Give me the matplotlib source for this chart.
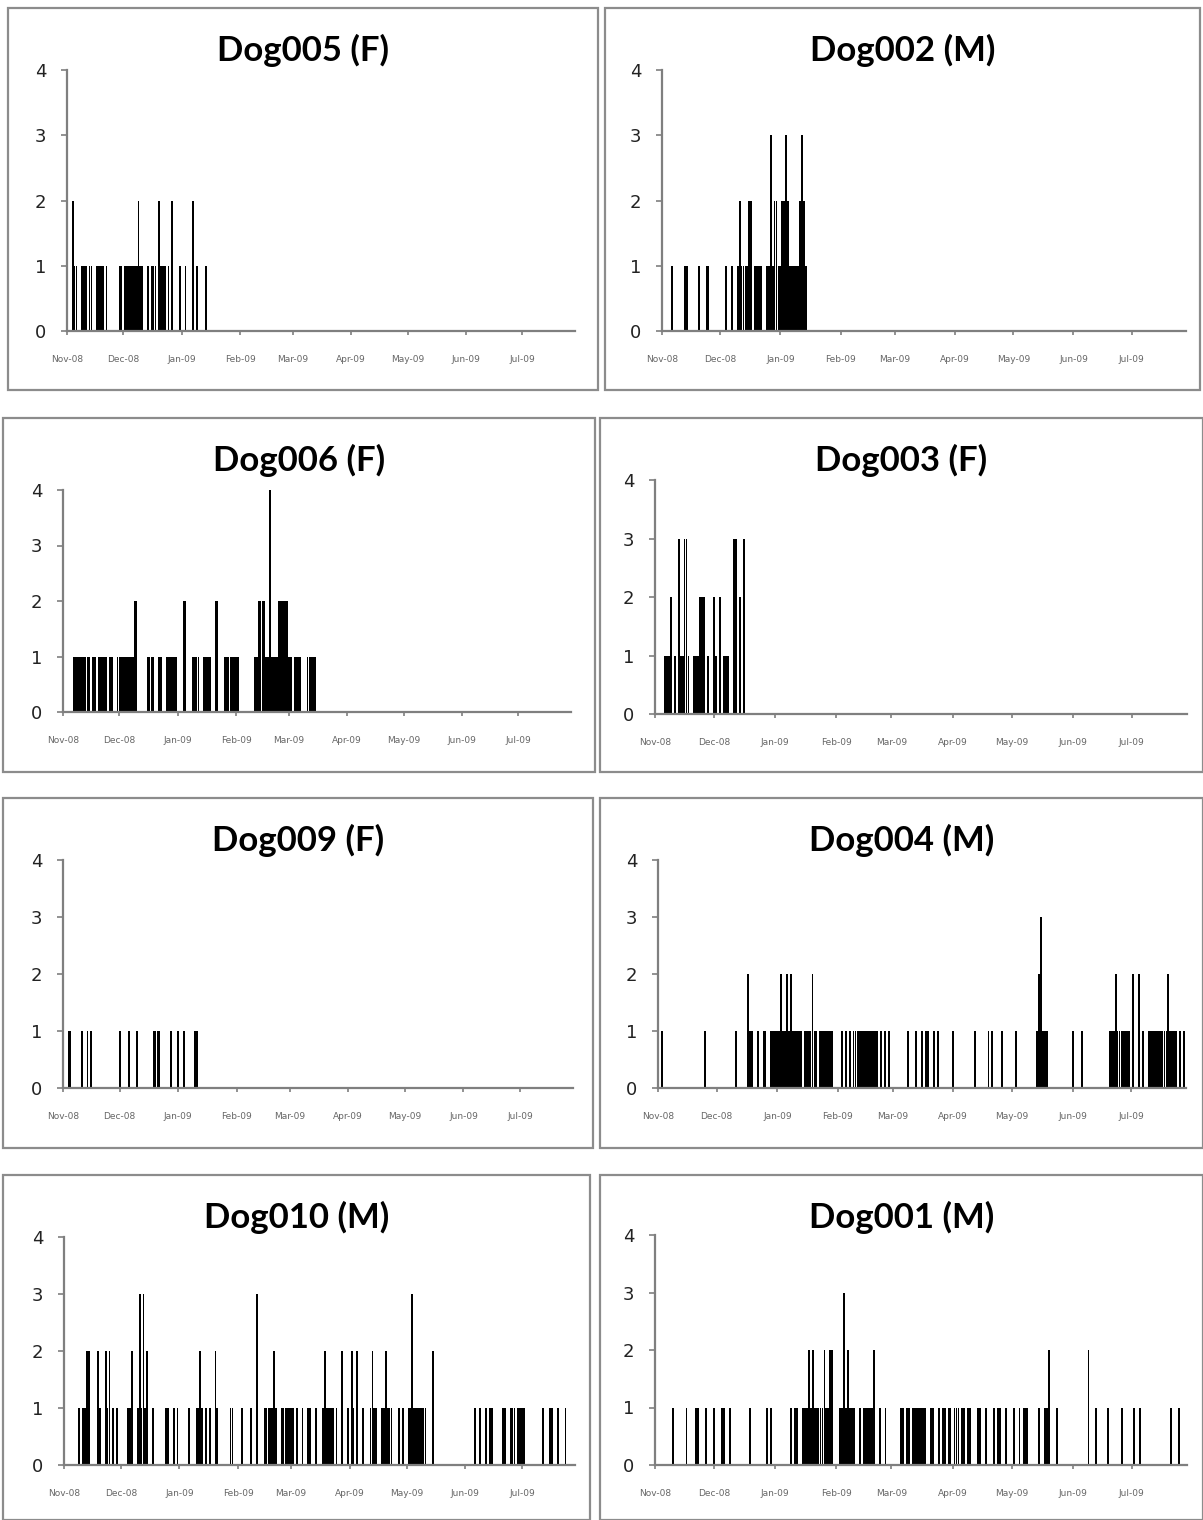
import datetime as dt

import matplotlib.pyplot as plt
from matplotlib.patches import Rectangle

# days counted from 1 Nov 2008; one list per daily count level
dog005_c1 = [4, 5, 8, 9, 10, 12, 13, 16, 17, 18, 19, 21, 28, 29, 31, 32, 33, 34, 35, 36, 37,
             39, 40, 43, 45, 46, 47, 50, 51, 52, 54, 60, 63, 69, 74]
dog005_c2 = [3, 38, 49, 56, 67]

dog002_c1 = [5, 12, 13, 19, 23, 24, 33, 36, 39, 41, 42, 43, 44, 48, 49, 50, 51, 54, 55, 57,
             60, 61, 66, 67, 68, 69, 70, 74]
dog002_c2 = [40, 45, 46, 58, 59, 62, 63, 65, 71, 73]
dog002_c3 = [56, 64, 72]

dog006_c1 = [6, 7, 8, 9, 10, 11, 12, 13, 14, 16, 17, 19, 20, 21, 22, 23, 25, 26, 29, 30, 31,
             32, 33, 34, 35, 36, 37, 45, 46, 47, 48, 51, 52, 55, 56, 57, 58, 59, 60, 69, 70,
             71, 72, 75, 76, 77, 78, 86, 87, 88, 89, 90, 91, 92, 93, 102, 103, 108, 109, 111,
             112, 113, 114, 120, 121, 123, 124, 125, 126, 130, 131, 132, 133, 134]
dog006_c2 = [38, 39, 64, 65, 81, 82, 104, 105, 106, 107, 115, 116, 117, 118, 119]
dog006_c4 = [110]

dog003_c1 = [5, 6, 7, 10, 13, 14, 17, 20, 21, 22, 27, 31, 35, 36, 37]
dog003_c2 = [8, 23, 24, 25, 30, 33, 43]
dog003_c3 = [12, 15, 16, 40, 41, 45]

dog009_c1 = [3, 4, 10, 13, 15, 30, 35, 39, 48, 49, 50, 51, 57, 61, 64, 70, 71]

dog004_c1 = [2, 24, 40, 47, 48, 51, 54, 55, 58, 59, 60, 61, 62, 64, 65, 67, 69, 70, 71, 72,
             73, 75, 76, 77, 78, 80, 81, 83, 84, 85, 86, 87, 88, 89, 94, 96, 98, 100, 101,
             102, 103, 104, 105, 106, 107, 108, 109, 110, 111, 112, 114, 116, 118, 128, 132,
             135, 137, 138, 141, 143, 151, 162, 169, 171, 176, 183, 194, 197, 198, 199, 212,
             217, 231, 232, 233, 235, 236, 237, 238, 239, 240, 241, 248, 251, 252, 253, 254,
             255, 256, 257, 258, 259, 260, 262, 263, 264, 265, 267, 269]
dog004_c2 = [46, 63, 66, 68, 79, 195, 234, 243, 246, 261]
dog004_c3 = [196]

dog010_c1 = [8, 10, 11, 19, 23, 26, 28, 34, 35, 39, 41, 43, 47, 54, 55, 58, 60, 66, 70, 71,
             73, 75, 77, 81, 88, 89, 94, 99, 106, 107, 108, 109, 110, 112, 115, 116, 117,
             118, 119, 120, 121, 123, 126, 129, 130, 133, 137, 139, 140, 141, 142, 144, 150,
             153, 158, 162, 164, 165, 168, 169, 171, 172, 173, 177, 179, 182, 183, 185, 186,
             187, 188, 189, 190, 191, 217, 220, 223, 225, 226, 232, 233, 236, 237, 238, 240,
             241, 242, 243, 253, 257, 258, 261, 265]
dog010_c2 = [12, 13, 18, 22, 24, 36, 44, 72, 80, 111, 138, 147, 152, 155, 163, 170, 195]
dog010_c3 = [40, 42, 102, 184]

dog001_c1 = [9, 16, 21, 22, 26, 30, 34, 35, 38, 48, 57, 59, 69, 71, 72, 75, 76, 77, 79, 81,
             82, 83, 84, 85, 87, 88, 94, 95, 97, 99, 100, 101, 104, 106, 107, 108, 109, 110,
             114, 117, 125, 126, 128, 129, 131, 132, 133, 134, 135, 136, 137, 140, 141, 144,
             146, 147, 149, 150, 152, 153, 154, 156, 157, 159, 160, 164, 165, 168, 172, 174,
             175, 178, 182, 185, 187, 188, 189, 195, 198, 199, 204, 224, 230, 237, 243, 246,
             262, 266]
dog001_c2 = [78, 80, 86, 89, 90, 98, 111, 200, 220]
dog001_c3 = [96]

titles = ["Dog005 (F)", "Dog002 (M)", "Dog006 (F)", "Dog003 (F)",
          "Dog009 (F)", "Dog004 (M)", "Dog010 (M)", "Dog001 (M)"]
levels = [
    {1: dog005_c1, 2: dog005_c2},
    {1: dog002_c1, 2: dog002_c2, 3: dog002_c3},
    {1: dog006_c1, 2: dog006_c2, 4: dog006_c4},
    {1: dog003_c1, 2: dog003_c2, 3: dog003_c3},
    {1: dog009_c1},
    {1: dog004_c1, 2: dog004_c2, 3: dog004_c3},
    {1: dog010_c1, 2: dog010_c2, 3: dog010_c3},
    {1: dog001_c1, 2: dog001_c2, 3: dog001_c3},
]

start = dt.date(2008, 11, 1)
month_dates = [dt.date(2008, 11, 1), dt.date(2008, 12, 1), dt.date(2009, 1, 1),
               dt.date(2009, 2, 1), dt.date(2009, 3, 1), dt.date(2009, 4, 1),
               dt.date(2009, 5, 1), dt.date(2009, 6, 1), dt.date(2009, 7, 1)]
month_ticks = [(d - start).days for d in month_dates]
month_labels = [d.strftime("%b-%y") for d in month_dates]

W, H = 1203, 1520
# panel boxes (left, top, right, bottom) and axes (left, right, top, bottom) in pixels
boxes = [(8, 8, 598, 390), (605, 8, 1200, 390),
         (3, 418, 595, 772), (600, 418, 1203, 772),
         (3, 798, 593, 1148), (600, 798, 1203, 1148),
         (3, 1175, 590, 1520), (600, 1175, 1203, 1520)]
axes_px = [(67, 575, 70, 331), (662, 1186, 70, 331),
           (63, 571, 490, 712), (655, 1187, 480, 714),
           (63, 573, 860, 1088), (658, 1186, 860, 1088),
           (64, 575, 1237, 1465), (655, 1187, 1235, 1465)]
title_y = [50, 50, 460, 460, 840, 840, 1217, 1217]

grey = "#7f7f7f"

fig = plt.figure(figsize=(W / 100, H / 100), dpi=100)

for i, title in enumerate(titles):
    bl, bt, br, bb = boxes[i]
    fig.patches.append(Rectangle((bl / W, 1 - bb / H), (br - bl) / W, (bb - bt) / H,
                                 transform=fig.transFigure, fill=False,
                                 edgecolor="#8c8c8c", linewidth=1.6))
    fig.text((bl + br) / 2 / W, 1 - title_y[i] / H, title, ha="center", va="center",
             fontsize=25, fontweight="bold", family=["Lato", "DejaVu Sans"], color="black")

    l, r, t, b = axes_px[i]
    ax = fig.add_axes([l / W, 1 - b / H, (r - l) / W, (b - t) / H])
    for level, days in levels[i].items():
        ax.bar(days, [level] * len(days), width=0.95, color="black", linewidth=0)
    ax.set_xlim(0, 270)
    ax.set_ylim(0, 4)
    ax.set_yticks([0, 1, 2, 3, 4])
    ax.set_xticks(month_ticks)
    ax.set_xticklabels(month_labels)
    for side in ["top", "right"]:
        ax.spines[side].set_visible(False)
    for side in ["left", "bottom"]:
        ax.spines[side].set_color(grey)
        ax.spines[side].set_linewidth(1.6)
    ax.tick_params(axis="y", direction="out", length=4, width=1.2, color=grey,
                   labelsize=13, labelcolor="#222222", pad=11)
    ax.tick_params(axis="x", direction="out", length=3, width=1.2, color=grey,
                   labelsize=6.5, labelcolor="#666666", pad=14)
    ax.set_facecolor("none")

fig.savefig("out.png", dpi=100, facecolor="white")
